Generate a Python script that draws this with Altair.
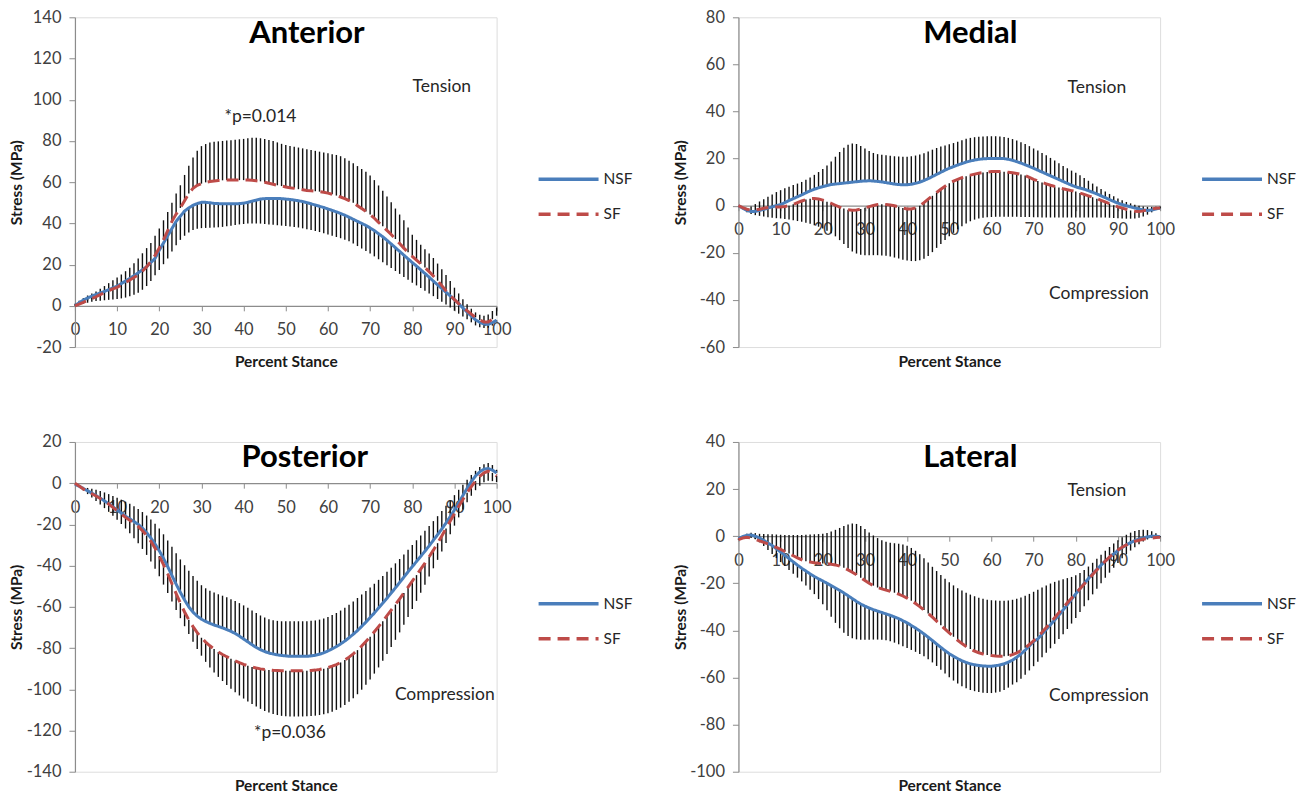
import altair as alt
import pandas as pd

pct = list(range(101))

# ---------------- Anterior ----------------
ant_nsf = [0, 1.5, 2.8, 3.8, 4.7, 5.5, 6.2, 7, 7.8, 8.7,
           9.6, 10.8, 12, 13.3, 14.6, 16, 17.5, 19, 21, 23,
           27, 30.5, 34, 37.5, 41, 43.5, 46, 47.5, 48.8, 49.6,
           50.2, 50.2, 50, 49.7, 49.6, 49.5, 49.5, 49.5, 49.5, 49.6,
           49.8, 50.2, 50.8, 51.3, 51.8, 52, 52.1, 52.1, 52.1, 52,
           51.8, 51.6, 51.3, 51, 50.6, 50.1, 49.5, 48.9, 48.3, 47.7,
           47, 46.3, 45.6, 44.8, 44, 43, 42, 41, 40, 39,
           37.8, 36.5, 35, 33.5, 31.8, 30, 28.2, 26.4, 24.6, 22.8,
           21, 19.3, 17.5, 15.7, 13.9, 12, 10.2, 8.4, 6.6, 4.8,
           3, 1, -1, -3, -5, -6.8, -8, -8.8, -9, -8.2,
           -7]
ant_sf = [0, 0.8, 1.7, 2.6, 3.5, 4.4, 5.4, 6.4, 7.4, 8.2,
          9, 10.1, 11.3, 12.5, 13.7, 15, 16.8, 19, 21.5, 24.5,
          28, 32, 36.5, 41, 44.5, 47.5, 51, 54.5, 57, 58.5,
          59.3, 59.9, 60.3, 60.6, 60.8, 60.9, 61, 61, 61, 61,
          61, 61, 60.9, 60.7, 60.4, 60, 59.5, 59, 58.5, 58.1,
          57.7, 57.3, 57, 56.6, 56.3, 56, 55.8, 55.6, 55.4, 55.1,
          54.7, 54.1, 53.5, 52.8, 52, 51.1, 50, 48.6, 47.2, 45.8,
          44.3, 42.5, 40.5, 38.6, 36.6, 34.6, 32.4, 30.2, 28, 26,
          24, 22.2, 20.4, 18.6, 16.6, 14.5, 12.2, 9.8, 7.3, 5,
          3, 1.1, -0.7, -2.4, -4, -5.6, -6.9, -7.8, -7.8, -6.5,
          -4.8]
ant_nsf_end = [0, 0.5, 1, 1.5, 2, 2.3, 2.5, 2.7, 2.9, 3.1,
               3.3, 3.6, 4, 4.6, 5.4, 6.4, 7.8, 9.6, 12, 14.8,
               17.4, 20.2, 23, 26.3, 29.4, 32, 34, 35.6, 36.8, 37.4,
               37.7, 37.8, 37.9, 38, 38.1, 38.3, 38.6, 38.9, 39.2, 39.5,
               39.7, 39.9, 40, 40, 39.9, 39.7, 39.5, 39.3, 39.1, 38.9,
               38.7, 38.5, 38.3, 38, 37.6, 37.2, 36.8, 36.3, 35.8, 35.2,
               34.6, 34, 33.4, 32.8, 32.1, 31.3, 30.2, 29, 27.8, 26.6,
               25.4, 24, 22.6, 21.1, 19.7, 18.3, 16.9, 15.5, 14, 12.6,
               11.2, 9.9, 8.6, 7.3, 6, 4.7, 3.3, 2, 0.7, -0.8,
               -2.4, -3.8, -5.2, -6.5, -8, -9.5, -10.4, -10.8, -10.6, -9.6,
               -7.8]
ant_sf_end = [1, 2.5, 3.8, 5, 6, 7, 8.3, 9.6, 11, 12.4,
              13.8, 15.2, 16.8, 18.5, 20.6, 23, 25.5, 28, 30.5, 34,
              37.5, 41.5, 45.5, 50, 54.5, 58.5, 63.5, 68, 72, 75.2,
              77.5, 78.5, 79.2, 79.6, 79.8, 80, 80.2, 80.4, 80.6, 80.8,
              81, 81.3, 81.6, 81.6, 81.3, 81, 80.5, 80, 79.3, 78.6,
              78, 77.6, 77.2, 76.8, 76.4, 76, 75.6, 75.2, 74.8, 74.4,
              74, 73.6, 73.2, 72.6, 71.6, 70.4, 69.2, 67.8, 66.4, 65,
              63.2, 61, 58.4, 55.8, 53, 50.2, 47.2, 44.3, 41.5, 38,
              34.5, 32, 29.6, 27.5, 25.4, 23.2, 20.5, 17.8, 15, 12,
              8.8, 6, 3.2, 0.8, -1.4, -3.2, -4.3, -4.8, -4.2, -2.5,
              -0.8]

# ---------------- Medial ----------------
med_nsf = [0, -1, -2, -2.5, -2.4, -2, -1.5, -1, -0.5, 0,
           0.5, 1.3, 2.2, 3, 3.8, 4.6, 5.5, 6.3, 7, 7.6,
           8.1, 8.6, 9, 9.2, 9.4, 9.6, 9.8, 10, 10.2, 10.4,
           10.5, 10.6, 10.5, 10.3, 10.1, 9.8, 9.5, 9.2, 9, 8.9,
           8.9, 9.1, 9.5, 10, 10.7, 11.5, 12.4, 13.3, 14.2, 15.1,
           15.9, 16.6, 17.3, 17.9, 18.5, 19, 19.4, 19.7, 19.9, 20,
           20.1, 20.1, 20.1, 20, 19.7, 19.3, 18.7, 18.1, 17.4, 16.7,
           15.9, 15.1, 14.3, 13.5, 12.7, 11.9, 11.1, 10.3, 9.5, 8.7,
           8, 7.5, 7, 6.4, 5.7, 5, 4.2, 3.4, 2.6, 1.8,
           1.1, 0.5, 0, -0.5, -1, -1.4, -1.8, -2, -1.8, -1.4,
           -1]
med_sf = [0, -0.8, -1.5, -1.9, -1.8, -1.5, -1.1, -0.8, -0.6, -0.5,
          -0.5, -0.3, 0, 0.6, 1.3, 2, 2.6, 3, 3.1, 2.9,
          2.4, 1.7, 1, 0.2, -0.6, -1.2, -1.7, -1.9, -1.8, -1.4,
          -0.9, -0.4, 0.1, 0.5, 0.6, 0.5, 0.3, 0, -0.5, -1,
          -1.4, -1.4, -0.9, 0, 1.3, 2.8, 4.2, 5.6, 7, 8.3,
          9.5, 10.4, 11.2, 11.9, 12.5, 13, 13.4, 13.8, 14.1, 14.3,
          14.5, 14.5, 14.5, 14.4, 14.2, 14, 13.7, 13.3, 12.8, 12,
          11.2, 10.5, 9.9, 9.3, 8.7, 8.2, 7.7, 7.2, 6.8, 6.4,
          6, 5.4, 4.8, 4.2, 3.6, 3, 2.3, 1.6, 0.9, 0.2,
          -0.5, -1, -1.5, -2, -2.3, -2.5, -2.2, -1.7, -1.3, -1.1,
          -1]
med_nsf_end = [0, -0.5, -1, -0.3, 0.7, 1.8, 2.8, 3.8, 4.8, 5.8,
               6.6, 7.4, 8.1, 8.8, 9.4, 10.1, 11, 12, 13.1, 14.3,
               15.6, 17.1, 18.8, 20.8, 22.8, 24.6, 25.9, 26.4, 26.2, 25.4,
               24.3, 23.2, 22.4, 21.9, 21.6, 21.4, 21.2, 21, 20.9, 20.8,
               20.8, 21, 21.3, 21.7, 22.3, 23, 23.8, 24.5, 25.1, 25.6,
               26.1, 26.6, 27.2, 27.8, 28.4, 28.8, 29.1, 29.3, 29.4, 29.5,
               29.5, 29.5, 29.4, 29.2, 28.8, 28.3, 27.7, 27, 26.2, 25.3,
               24.3, 23.4, 22.4, 21.4, 20.3, 19.2, 18, 16.9, 15.9, 14.9,
               14, 12.9, 11.8, 10.6, 9.4, 8.2, 7.1, 6, 5, 4,
               3.1, 2.3, 1.6, 1, 0.4, 0, -0.3, -0.5, -0.5, -0.4,
               -0.3]
med_sf_end = [0, -1.5, -2.8, -3.5, -4, -4.3, -4.6, -4.9, -5.1, -5.3,
              -5.4, -5.6, -5.9, -6.2, -6.5, -6.8, -7.2, -7.7, -8.3, -8.9,
              -9.7, -10.6, -11.7, -13, -14.6, -16.3, -18, -19.4, -20.3, -20.8,
              -21, -21, -21, -21, -21.1, -21.2, -21.6, -22, -22.4, -22.9,
              -23.3, -23.5, -23.5, -23.2, -22.5, -21.3, -19.7, -17.9, -16.2, -14.5,
              -13, -11.5, -10, -8.7, -7.5, -6.6, -5.9, -5.4, -5.1, -4.9,
              -4.8, -4.7, -4.7, -4.7, -4.7, -4.7, -4.7, -4.8, -4.8, -4.8,
              -4.9, -4.9, -5, -5, -5, -5, -5, -5, -5, -5,
              -5, -5, -5, -5, -5, -5, -5, -5, -5.1, -5.2,
              -5.3, -5.4, -5.5, -5.5, -5.4, -5.1, -4.6, -3.8, -2.8, -1.8,
              -1.2]

# ---------------- Posterior ----------------
pos_nsf = [-0.5, -1.5, -2.6, -3.7, -4.8, -6, -7.3, -8.6, -10, -11.5,
           -13, -14.5, -16, -17.3, -18.6, -20, -21.8, -24, -26.6, -29.5,
           -32.8, -36.5, -40.5, -44.8, -49, -53, -56.7, -60, -62.6, -64.5,
           -66, -67.1, -68, -68.8, -69.5, -70.2, -71, -71.9, -72.9, -74.2,
           -75.6, -77, -78.4, -79.7, -80.8, -81.7, -82.4, -82.9, -83.3, -83.6,
           -83.8, -84, -84, -84, -84, -84, -83.8, -83.5, -83, -82.3,
           -81.4, -80.4, -79.3, -78, -76.6, -75, -73.3, -71.5, -69.5, -67.4,
           -65.2, -63, -60.6, -58.2, -55.8, -53.3, -50.8, -48.2, -45.6, -43,
           -40.5, -38, -35.5, -33, -30.4, -27.7, -25, -22.2, -19.3, -16.2,
           -13, -9.5, -6, -2.5, 0.8, 3.5, 5.5, 6.8, 7.1, 6.3,
           5]
pos_sf = [0, -1.4, -2.8, -4, -5.1, -6.2, -7.4, -8.7, -10.1, -11.7,
          -13.4, -15, -16.6, -18, -19.4, -21, -23, -25.4, -28.2, -31.5,
          -35.3, -39.5, -44, -48.8, -53.6, -58.2, -62.5, -66.3, -69.6, -72.5,
          -75, -77.1, -78.9, -80.5, -81.9, -83.1, -84.2, -85.2, -86.2, -87.1,
          -87.9, -88.6, -89.2, -89.7, -90.1, -90.4, -90.6, -90.8, -90.9, -91,
          -91, -91, -91, -91, -91, -91, -90.9, -90.7, -90.4, -90,
          -89.5, -88.8, -88, -87, -85.8, -84.4, -82.8, -81, -79, -76.8,
          -74.5, -72.1, -69.6, -67, -64.3, -61.6, -58.9, -56.1, -53.3, -50.4,
          -47.5, -44.6, -41.7, -38.8, -35.7, -32.5, -29.1, -25.6, -22, -18.4,
          -14.8, -11.3, -7.9, -4.7, -1.7, 1, 3.3, 5, 5.8, 5,
          3.5]
pos_nsf_end = [-0.5, -1.2, -1.8, -2.3, -2.7, -3.2, -3.8, -4.5, -5.3, -6.2,
               -7.1, -8, -9, -10, -11.2, -12.5, -14, -15.7, -17.6, -19.7,
               -22, -24.8, -27.8, -30.9, -34, -37, -39.8, -42.5, -45, -47.3,
               -49.5, -51, -52.2, -53.1, -53.9, -54.6, -55.4, -56.3, -57.2, -58.2,
               -59.3, -60.5, -61.8, -63, -64.2, -65.2, -66, -66.5, -66.8, -67,
               -67, -67, -67, -67, -67, -67, -66.8, -66.6, -66.2, -65.6,
               -64.9, -64, -63, -61.8, -60.5, -59, -57.4, -55.7, -54, -52.3,
               -50.6, -48.8, -46.9, -45, -43, -41, -38.9, -36.8, -34.6, -32.3,
               -30, -27.7, -25.4, -23.1, -20.8, -18.4, -16, -13.5, -11, -8.4,
               -5.8, -3.2, -0.7, 1.7, 4, 6, 7.8, 9.2, 9.8, 8.8,
               6.5]
pos_sf_end = [0, -1.8, -3.6, -5.3, -7, -8.7, -10.4, -12.1, -13.9, -15.8,
              -17.8, -19.8, -22, -24.3, -26.7, -29.2, -31.9, -34.8, -38, -41.5,
              -45.2, -49.2, -53.3, -57.4, -61.5, -65.5, -69.4, -73.2, -76.9, -80.4,
              -83.7, -86.7, -89.4, -91.8, -94, -96, -97.9, -99.7, -101.4, -103,
              -104.5, -105.9, -107.2, -108.4, -109.5, -110.5, -111.3, -112, -112.5, -112.9,
              -113.1, -113.2, -113.2, -113.2, -113.2, -113.1, -113, -112.8, -112.5, -112.1,
              -111.6, -110.9, -110, -108.9, -107.6, -106.1, -104.4, -102.4, -100.2, -97.8,
              -95.2, -92.4, -89.4, -86.2, -82.9, -79.5, -76, -72.4, -68.7, -64.9,
              -61, -57.1, -53.2, -49.3, -45.3, -41.3, -37.2, -33.1, -29, -24.8,
              -20.6, -16.6, -12.8, -9.3, -6.1, -3.4, -1.2, 0.4, 1.2, 1,
              0.5]

# ---------------- Lateral ----------------
lat_nsf = [-1, -0.2, 0.4, 0.5, 0, -0.8, -1.8, -2.9, -4, -5.3,
           -6.7, -8.1, -9.5, -10.9, -12.3, -13.6, -14.8, -16, -17.1, -18.1,
           -19, -20, -21, -22, -23, -24.1, -25.3, -26.5, -27.7, -28.8,
           -29.7, -30.5, -31.2, -31.8, -32.4, -33, -33.6, -34.3, -35, -35.9,
           -36.8, -37.9, -39, -40.2, -41.5, -42.9, -44.3, -45.8, -47.2, -48.6,
           -49.9, -51, -52, -52.9, -53.6, -54.2, -54.6, -54.9, -55.1, -55.2,
           -55.2, -55, -54.7, -54.2, -53.5, -52.6, -51.4, -50, -48.4, -46.6,
           -44.7, -43.6, -41.6, -39.6, -37.6, -35.6, -33.5, -31.3, -29.1, -26.8,
           -24.5, -22.3, -20.1, -18, -16, -14.1, -12.3, -10.6, -9, -7.5,
           -6.1, -4.8, -3.7, -2.7, -1.9, -1.2, -0.7, -0.3, 0, 0,
           -0.2]
lat_sf = [-1.5, -0.8, -0.5, -0.8, -1.3, -2, -2.6, -3.3, -4, -4.8,
          -5.6, -6.5, -7.4, -8.3, -9.2, -10, -10.6, -11, -11.3, -11.5,
          -11.6, -11.7, -11.9, -12.2, -12.7, -13.4, -14.3, -15.3, -16.4, -17.6,
          -18.8, -20, -21, -21.8, -22.4, -22.9, -23.4, -24, -24.6, -25.4,
          -26.3, -27.4, -28.6, -29.9, -31.3, -32.8, -34.4, -36.1, -37.8, -39.5,
          -41.1, -42.7, -44.2, -45.6, -46.8, -47.9, -48.8, -49.5, -50, -50.4,
          -50.7, -50.9, -51, -51, -50.8, -50.3, -49.6, -48.6, -47.4, -46,
          -44.4, -42.7, -40.8, -38.8, -36.7, -34.6, -32.5, -30.4, -28.3, -26.3,
          -24.3, -22.3, -20.3, -18.3, -16.3, -14.3, -12.4, -10.6, -8.9, -7.3,
          -5.9, -4.7, -3.7, -2.9, -2.2, -1.7, -1.3, -1, -0.8, -0.6,
          -0.5]
lat_nsf_end = [-1, -0.5, 0, -0.2, -1.2, -2.6, -4.2, -5.9, -7.6, -9.3,
               -11, -12.7, -14.4, -16, -17.6, -19.2, -20.9, -22.7, -24.6, -26.7,
               -28.9, -31.5, -34.2, -36.8, -39.1, -41, -42.4, -43.3, -43.8, -44,
               -44, -44, -43.9, -43.9, -44, -44.2, -44.6, -45.2, -45.9, -46.7,
               -47.5, -48.3, -49.1, -50, -51, -52.2, -53.6, -55.1, -56.7, -58.3,
               -59.9, -61.3, -62.6, -63.7, -64.6, -65.3, -65.8, -66.2, -66.5, -66.6,
               -66.6, -66.4, -66, -65.3, -64.3, -63, -62, -60.5, -58.8, -57,
               -55.2, -53.3, -51.4, -49.5, -47.6, -45.7, -43.7, -41.6, -39.4, -37.1,
               -34.7, -32.2, -29.7, -27.2, -24.7, -22.3, -20, -17.7, -15.5, -13.4,
               -11.4, -9.4, -7.7, -6.1, -4.7, -3.4, -2.3, -1.4, -0.7, -0.3,
               0]
lat_sf_end = [-1, 0, 1, 1.5, 1.3, 1, 0.9, 0.8, 0.8, 0.7,
              0.6, 0.5, 0.5, 0.5, 0.5, 0.5, 0.6, 0.7, 0.8, 0.9,
              1, 1.4, 2, 2.7, 3.5, 4.3, 5, 5.4, 5.2, 4.3,
              3, 1.6, 0.3, -0.8, -1.7, -2.4, -2.8, -3, -3.2, -3.5,
              -4.1, -5, -6.2, -7.7, -9.4, -11.2, -13, -14.8, -16.5, -18.1,
              -19.6, -20.9, -22.1, -23.1, -24, -24.8, -25.5, -26.1, -26.6, -27,
              -27.2, -27.3, -27.4, -27.4, -27.3, -27, -26.6, -26, -25.3, -24.5,
              -23.6, -22.7, -21.8, -20.9, -20.1, -19.4, -18.8, -18.3, -17.8, -17.3,
              -16.6, -15.6, -14.4, -12.9, -11.3, -9.6, -7.9, -6.2, -4.6, -3.1,
              -1.7, -0.5, 0.6, 1.5, 2.2, 2.6, 2.7, 2.6, 2.1, 1.2,
              0]

series_names = ["NSF", "SF"]
x_ticks = list(range(0, 101, 10))

# ---------------- styling / layout ----------------
BLUE = "#4A7EBB"
RED = "#BE4B48"
W, H = 422, 330
FONT = "Lato"
LABEL_COLOR = "#404040"
AXIS_COLOR = "#8C8C8C"
PLAIN_LABEL = "'' + datum.value"


def panel(title, title_pos, nsf, sf, nsf_end, sf_end, ymin, ymax, notes):
    for arr in (nsf, sf, nsf_end, sf_end):
        assert len(arr) == 101
    lines = pd.DataFrame({
        "pct": pct + pct,
        "stress": nsf + sf,
        "group": [series_names[0]] * 101 + [series_names[1]] * 101,
    })
    bars = pd.DataFrame({"pct": pct + pct, "stress": nsf + sf, "end": nsf_end + sf_end})
    zero_from_bottom = H * (0 - ymin) / (ymax - ymin)

    xs = alt.Scale(domain=[0, 100], nice=False, zero=False)
    ys = alt.Scale(domain=[ymin, ymax], nice=False, zero=False)

    xaxis = alt.Axis(
        values=x_ticks, offset=-zero_from_bottom, grid=False, labelExpr=PLAIN_LABEL,
        title="Percent Stance", titleY=zero_from_bottom + 14, titleBaseline="middle",
        titleFont=FONT, titleFontSize=15.5, titleFontWeight="bold", titleColor="#1a1a1a",
        labelFont=FONT, labelFontSize=16.5, labelColor=LABEL_COLOR, labelPadding=11,
        labelFlush=False, labelOverlap=False,
        domainColor=AXIS_COLOR, tickColor=AXIS_COLOR, tickSize=5, domainWidth=1.2,
    )
    yaxis = alt.Axis(
        values=list(range(ymin, ymax + 1, 20)), grid=False, labelExpr=PLAIN_LABEL,
        title="Stress (MPa)", titleX=-58, titleY=H / 2, titleAngle=-90,
        titleAlign="center", titleBaseline="middle",
        titleFont=FONT, titleFontSize=15.5, titleFontWeight="bold", titleColor="#1a1a1a",
        labelFont=FONT, labelFontSize=16.5, labelColor=LABEL_COLOR, labelPadding=8,
        domainColor=AXIS_COLOR, tickColor=AXIS_COLOR, tickSize=6, domainWidth=1.2,
    )

    bar_layer = alt.Chart(bars).mark_rule(color="#111111", strokeWidth=1.4).encode(
        x=alt.X("pct:Q", scale=xs, axis=xaxis),
        y=alt.Y("stress:Q", scale=ys, axis=yaxis),
        y2="end:Q",
    )

    leg = alt.Legend(
        title=None, orient="none", legendX=W + 40, legendY=152,
        symbolType="stroke", symbolSize=3600, symbolStrokeWidth=3.5,
        clipHeight=20, rowPadding=15, labelOffset=3,
        labelFont=FONT, labelFontSize=15.5, labelColor="#262626", padding=0,
    )
    line_layer = alt.Chart(lines).mark_line(strokeWidth=3).encode(
        x=alt.X("pct:Q", scale=xs),
        y=alt.Y("stress:Q", scale=ys),
        color=alt.Color("group:N", scale=alt.Scale(domain=series_names, range=[BLUE, RED]), legend=leg),
        strokeDash=alt.StrokeDash("group:N", scale=alt.Scale(domain=series_names, range=[[1, 0], [12, 7]]), legend=leg),
    )

    title_df = pd.DataFrame({"pct": [title_pos[0]], "stress": [title_pos[1]], "text": [title]})
    title_layer = alt.Chart(title_df).mark_text(
        font=FONT, fontSize=31, fontWeight="bold", color="#000000", baseline="middle", align="center"
    ).encode(x=alt.X("pct:Q", scale=xs), y=alt.Y("stress:Q", scale=ys), text="text:N")

    notes_df = pd.DataFrame(notes, columns=["pct", "stress", "text"])
    notes_layer = alt.Chart(notes_df).mark_text(
        font=FONT, fontSize=17.5, color="#262626", baseline="middle", align="center"
    ).encode(x=alt.X("pct:Q", scale=xs), y=alt.Y("stress:Q", scale=ys), text="text:N")

    return alt.layer(bar_layer, line_layer, title_layer, notes_layer).properties(width=W, height=H)


anterior = panel("Anterior", (55, 132), ant_nsf, ant_sf, ant_nsf_end, ant_sf_end, -20, 140,
                 [(87, 106, "Tension"), (44, 91.5, "*p=0.014")])
medial = panel("Medial", (55, 73), med_nsf, med_sf, med_nsf_end, med_sf_end, -60, 80,
               [(85, 50, "Tension"), (85.5, -37.6, "Compression")])
posterior = panel("Posterior", (54.5, 12), pos_nsf, pos_sf, pos_nsf_end, pos_sf_end, -140, 20,
                  [(87.7, -103, "Compression"), (51, -121.4, "*p=0.036")])
lateral = panel("Lateral", (55, 33), lat_nsf, lat_sf, lat_nsf_end, lat_sf_end, -100, 40,
                [(85, 19, "Tension"), (85.5, -68, "Compression")])

chart = alt.concat(
    anterior, medial, posterior, lateral, columns=2,
    spacing={"row": 95, "column": 242},
).resolve_scale(
    color="independent", strokeDash="independent", x="independent", y="independent"
).properties(
    bounds="flush", padding={"left": 1, "top": 0, "right": 0, "bottom": 0}
).configure_view(stroke=None).configure(background="white")

chart.save("out.html", embed_options={"renderer": "svg", "actions": False})
